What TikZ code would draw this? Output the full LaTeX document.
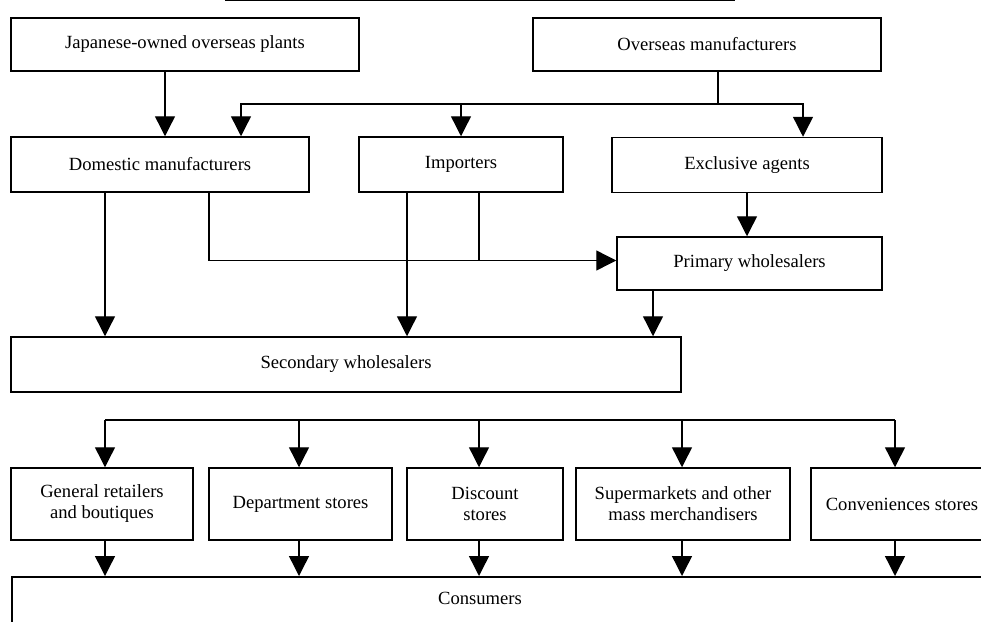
\documentclass[tikz,border=0pt]{standalone}
\usepackage{fontspec}
\setmainfont{Liberation Serif}
\usetikzlibrary{arrows.meta,positioning,calc}
\tikzset{
    line/.style   = {-{Triangle[length=20pt,width=20pt]}, line width=1.4pt, draw=black},
    link/.style   = {line width=1.4pt, draw=black},
    block/.style  = {draw=black, line width=1.5pt, fill=white, inner sep=0pt,
            minimum height=53pt, align=center,
            font=\fontsize{18.6}{21}\selectfont},
    shop/.style   = {block, minimum height=72pt},
}

\begin{document}
\begin{tikzpicture}[x=1pt, y=-1pt]
    \useasboundingbox (0,0) rectangle (981,621);
    \clip (0,0) rectangle (981,621);
    % underline of the cut-off title
    \draw[link] (225,0.6) -- (735,0.6);

    % Nodes
    \node[block, minimum width=348pt] (japan)     at (185,44.5)  {Japanese-owned overseas plants};
    \node[block, minimum width=348pt] (overseas)  at (707,44.5)  {Overseas manufacturers};
    \node[block, minimum width=298pt, minimum height=55pt] (domestic)  at (160,164.5) {Domestic manufacturers};
    \node[block, minimum width=204pt, minimum height=55pt] (importers) at (461,164.5) {Importers};
    \node[block, minimum width=270pt, minimum height=55pt] (agents)    at (747,165)   {Exclusive agents};
    \node[block, minimum width=265pt] (primary)   at (749.5,263.5) {Primary wholesalers};
    \node[block, minimum width=670pt, minimum height=55pt] (secondary) at (346,364.5) {Secondary wholesalers};

    \node[shop, minimum width=182pt] (general)  at (102,504)   {General retailers\\ and boutiques};
    \node[shop, minimum width=183pt] (dept)     at (300.5,504) {Department stores};
    \node[shop, minimum width=156pt] (discount) at (485,504)   {Discount\\ stores};
    \node[shop, minimum width=214pt] (superm)   at (683,504)   {Supermarkets and other\\ mass merchandisers};
    \node[shop, minimum width=182pt] (conv)     at (902,504)   {Conveniences stores};

    \node[block, anchor=north west, minimum width=989pt, minimum height=80pt] (consumers) at (11,576) {};
    \node[font=\fontsize{18.6}{21}\selectfont] (constext) at (480,598) {Consumers};

    \coordinate (obus) at (718,104);  % overseas split
    \coordinate (rbus) at (0,420);    % retail split

    % Arrows
    \draw[line] ([xshift=-20pt]japan.south) -- ([xshift=-20pt]japan.south |- domestic.north);
    \draw[link] (overseas.south -| obus) -- (obus);
    \draw[line] (obus) -| ([xshift=81pt]domestic.north);
    \draw[line] (obus) -| (importers.north);
    \draw[line] (obus) -| ([xshift=56pt]agents.north);
    \draw[line] (agents.south) -- (agents.south |- primary.north);

    \draw[line] ([xshift=-55pt]domestic.south) -- ([xshift=-55pt]domestic.south |- secondary.north);
    \draw[line] ([xshift=49pt]domestic.south) |- ([yshift=3pt]primary.west);
    \draw[link] ([xshift=18pt]importers.south) -- ([xshift=18pt,yshift=3pt]importers.south |- primary.west);
    \draw[line] ([xshift=-54pt]importers.south) -- ([xshift=-54pt]importers.south |- secondary.north);
    \draw[line] ([xshift=-96.5pt]primary.south) -- ([xshift=-96.5pt]primary.south |- secondary.north);

    \draw[link] ([xshift=3pt]general.north |- rbus) -- ([xshift=-7pt]conv.north |- rbus);
    \foreach \n/\s in {general/3,dept/-1.5,discount/-6,superm/-1,conv/-7}{
        \draw[line] ([xshift=\s pt]\n.north |- rbus) -- ([xshift=\s pt]\n.north);
        \draw[line] ([xshift=\s pt]\n.south) -- ([xshift=\s pt]\n.south |- consumers.north);
    }
\end{tikzpicture}
\end{document}
